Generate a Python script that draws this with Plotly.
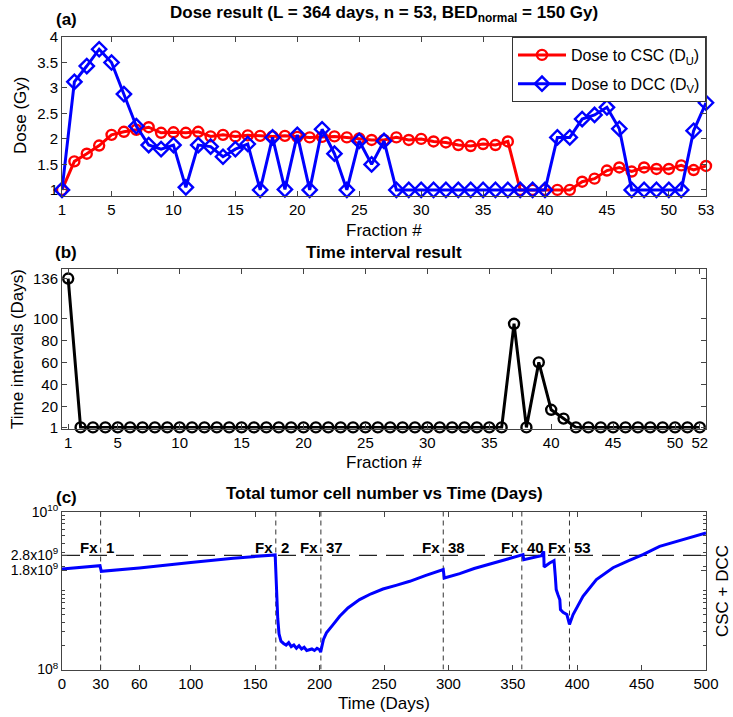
import plotly.graph_objects as go

W, H = 733, 717

# ---------------- data ----------------
fractions_a = list(range(1, 54))
dose_csc = [1.00, 1.56, 1.71, 1.87, 2.08, 2.14, 2.18, 2.23, 2.12, 2.13,
            2.12, 2.14, 2.05, 2.08, 2.05, 2.07, 2.06, 2.05, 2.06, 2.04,
            2.03, 2.04, 2.05, 2.03, 2.01, 1.98, 1.98, 2.03, 1.98, 2.00,
            1.95, 1.93, 1.88, 1.86, 1.90, 1.88, 1.95, 1.00, 1.00, 1.00,
            1.00, 1.00, 1.16, 1.22, 1.38, 1.44, 1.36, 1.44, 1.41, 1.41,
            1.48, 1.39, 1.47]
dose_dcc = [1.00, 3.12, 3.43, 3.76, 3.50, 2.88, 2.25, 1.88, 1.80, 1.88,
            1.05, 1.88, 1.85, 1.65, 1.80, 1.90, 1.00, 2.03, 1.01, 2.08,
            1.00, 2.19, 1.71, 1.00, 1.96, 1.50, 1.96, 1.00, 1.00, 1.00,
            1.00, 1.00, 1.00, 1.00, 1.00, 1.00, 1.00, 1.00, 1.00, 1.00,
            2.03, 2.03, 2.39, 2.47, 2.62, 2.20, 1.00, 1.00, 1.00, 1.00,
            1.00, 2.16, 2.71]
xticks_a = [1, 5, 10, 15, 20, 25, 30, 35, 40, 45, 50, 53]
yticks_a = [1, 1.5, 2, 2.5, 3, 3.5, 4]

fractions_b = list(range(1, 53))
intervals = [136] + [1] * 35 + [95, 1, 60, 17, 9] + [1] * 11
xticks_b = [1, 5, 10, 15, 20, 25, 30, 35, 40, 45, 50, 52]
yticks_b = [1, 20, 40, 60, 80, 100, 136]

days_c = [0, 29.5, 30.5, 60, 100, 133, 165.5, 166, 166.8, 167.5,
          168.5, 170, 172, 174, 176, 178, 180, 182, 184, 186,
          188, 190, 192, 194, 196, 198, 200, 200.8, 203, 205.3,
          210, 215.6, 222, 231, 240, 249.2, 260, 270, 282, 296,
          296.8, 308.8, 320, 334.6, 346, 357.9, 358.5, 372.2, 374, 374.3,
          378.6, 382, 383, 383.7, 385, 386.5, 387, 389, 392, 394,
          396.8, 404.5, 414.9, 427.8, 440, 451, 464, 480, 500]
cells_c = [1.884e9, 2.070e9, 1.754e9, 1.936e9, 2.270e9, 2.570e9, 2.831e9, 1.585e9, 7.94e8, 4.47e8,
           2.82e8, 2.29e8, 2.14e8, 2.04e8, 2.19e8, 1.95e8, 2.04e8, 1.86e8, 2.00e8, 1.82e8,
           1.91e8, 1.74e8, 1.78e8, 1.82e8, 1.74e8, 1.86e8, 1.78e8, 1.66e8, 2.40e8, 2.91e8,
           3.63e8, 4.73e8, 6.03e8, 7.69e8, 9.12e8, 1.047e9, 1.175e9, 1.312e9, 1.549e9, 1.845e9,
           1.445e9, 1.641e9, 1.905e9, 2.239e9, 2.512e9, 2.858e9, 2.466e9, 2.773e9, 3.141e9, 1.995e9,
           2.239e9, 2.399e9, 1.517e9, 1.030e9, 8.91e8, 7.69e8, 5.75e8, 5.32e8, 4.97e8, 3.72e8,
           4.97e8, 8.47e8, 1.377e9, 1.950e9, 2.399e9, 2.858e9, 3.631e9, 4.365e9, 5.370e9]
fx_labels = ["1", "2", "37", "38", "40", "53"]
fx_days = [30, 166, 201, 296, 357, 394]
threshold = 2.8e9
xticks_c = [0, 30, 60, 100, 150, 200, 250, 300, 350, 400, 450, 500]
yticks_c = [1e8, 1.8e9, 2.8e9, 1e10]
yticktext_c = ["10<sup>8</sup>", "1.8x10<sup>9</sup>", "2.8x10<sup>9</sup>", "10<sup>10</sup>"]

# ---------------- figure ----------------
FONT = "Liberation Sans, Arial, sans-serif"


def px(x):
    return x / W


def py(y):
    return 1 - y / H


fig = go.Figure()

fig.add_trace(go.Scatter(x=fractions_a, y=dose_csc, mode="lines+markers",
                         name="Dose to CSC (D<sub>U</sub>)", legendgroup="u",
                         line=dict(color="#ff0000", width=3),
                         marker=dict(symbol="circle-open", size=10, color="#ff0000",
                                     line=dict(width=2.4)),
                         cliponaxis=False, xaxis="x", yaxis="y"))
fig.add_trace(go.Scatter(x=fractions_a, y=dose_dcc, mode="lines+markers",
                         name="Dose to DCC (D<sub>V</sub>)", legendgroup="v",
                         line=dict(color="#0000ff", width=3),
                         marker=dict(symbol="diamond-open", size=11, color="#0000ff",
                                     line=dict(width=2.4)),
                         cliponaxis=False, xaxis="x", yaxis="y"))

fig.add_trace(go.Scatter(x=fractions_b, y=intervals, mode="lines+markers",
                         showlegend=False,
                         line=dict(color="black", width=3),
                         marker=dict(symbol="circle-open", size=10, color="black",
                                     line=dict(width=2.4)),
                         cliponaxis=False, xaxis="x2", yaxis="y2"))

# panel c reference lines
fig.add_trace(go.Scatter(x=[0, 500], y=[threshold, threshold], mode="lines",
                         showlegend=False, line=dict(color="#222", width=1.2, dash="18px,9px"),
                         xaxis="x3", yaxis="y3", hoverinfo="skip"))
for d in fx_days:
    fig.add_trace(go.Scatter(x=[d, d], y=[1e8, 1e10], mode="lines",
                             showlegend=False, line=dict(color="#333", width=1, dash="5px,4px"),
                             xaxis="x3", yaxis="y3", hoverinfo="skip"))
fig.add_trace(go.Scatter(x=days_c, y=cells_c, mode="lines", showlegend=False,
                         line=dict(color="#0000ff", width=3),
                         xaxis="x3", yaxis="y3"))

axis_common = dict(showline=True, linecolor="#444", linewidth=1, mirror="ticks",
                   ticks="inside", ticklen=5, tickcolor="#444", showgrid=False,
                   zeroline=False, automargin=False,
                   tickfont=dict(family=FONT, size=15, color="black"))

xd = [px(62), px(706)]
fig.update_layout(
    width=W, height=H,
    margin=dict(l=0, r=0, t=0, b=0, pad=0),
    paper_bgcolor="white", plot_bgcolor="white",
    font=dict(family=FONT, color="black"),
    xaxis=dict(domain=xd, range=[1, 53], tickvals=xticks_a, anchor="y", **axis_common),
    yaxis=dict(domain=[py(196), py(37)], range=[0.88, 4], tickvals=yticks_a,
               ticktext=[str(v) for v in yticks_a], anchor="x", **axis_common),
    xaxis2=dict(domain=xd, range=[0.5, 52.5], tickvals=xticks_b, anchor="y2", **axis_common),
    yaxis2=dict(domain=[py(428.5), py(269.3)], range=[0, 144.4], tickvals=yticks_b,
                anchor="x2", **axis_common),
    xaxis3=dict(domain=xd, range=[0, 500], tickvals=xticks_c, anchor="y3", **axis_common),
    yaxis3=dict(domain=[py(669.5), py(511.7)], type="log", range=[8, 10],
                tickvals=yticks_c, ticktext=yticktext_c, anchor="x3",
                minor=dict(ticks="inside", ticklen=3, tickcolor="#444",
                           tickvals=[2e8, 3e8, 4e8, 5e8, 6e8, 7e8, 8e8, 9e8, 1e9,
                                     2e9, 3e9, 4e9, 5e9, 6e9, 7e9, 8e9, 9e9]),
                **{**axis_common, "tickfont": dict(family=FONT, size=14, color="black")}),
    legend=dict(x=px(706), y=py(37), xanchor="right", yanchor="top", xref="paper", yref="paper",
                bgcolor="white", bordercolor="#333", borderwidth=1,
                font=dict(family=FONT, size=16, color="black"),
                traceorder="grouped", tracegroupgap=5, itemwidth=48),
    showlegend=True,
)

ann = []


def text(x, y, s, size=17, bold=False, xanchor="center", yanchor="middle", angle=0,
         xref="paper", yref="paper"):
    ann.append(dict(x=x, y=y, xref=xref, yref=yref, text=(f"<b>{s}</b>" if bold else s),
                    showarrow=False, xanchor=xanchor, yanchor=yanchor, textangle=angle,
                    font=dict(family=FONT, size=size, color="black")))


# titles
text(px(384), py(14), "Dose result (L = 364 days, n = 53, BED<sub>normal</sub> = 150 Gy)", size=17, bold=True)
text(px(384), py(252), "Time interval result", size=17, bold=True)
text(px(384), py(493), "Total tumor cell number vs Time (Days)", size=17, bold=True)
# panel letters
text(px(66), py(20), "(a)", size=17, bold=True)
text(px(66), py(253), "(b)", size=17, bold=True)
text(px(66), py(497), "(c)", size=17, bold=True)
# axis titles
text(px(384), py(230), "Fraction #", size=17)
text(px(384), py(462), "Fraction #", size=17)
text(px(384), py(703), "Time (Days)", size=17)
text(px(21), py(116), "Dose (Gy)", size=17, angle=-90)
text(px(17), py(349), "Time intervals (Days)", size=17, angle=-90)
text(px(722), py(591), "CSC + DCC", size=17, angle=-90)
# Fx labels
for lab, d in zip(fx_labels, fx_days):
    ann.append(dict(x=d, y=py(547), xref="x3", yref="paper", text="<b>Fx</b>", showarrow=False,
                    xanchor="right", yanchor="middle", xshift=-1,
                    font=dict(family=FONT, size=15, color="black")))
    ann.append(dict(x=d, y=py(547), xref="x3", yref="paper", text=f"<b>{lab}</b>", showarrow=False,
                    xanchor="left", yanchor="middle", xshift=3,
                    font=dict(family=FONT, size=15, color="black")))

fig.update_layout(annotations=ann)
fig.write_html("out.html", config={"displayModeBar": False},
               post_script="document.body.style.margin='0px';document.body.style.overflow='hidden';")
